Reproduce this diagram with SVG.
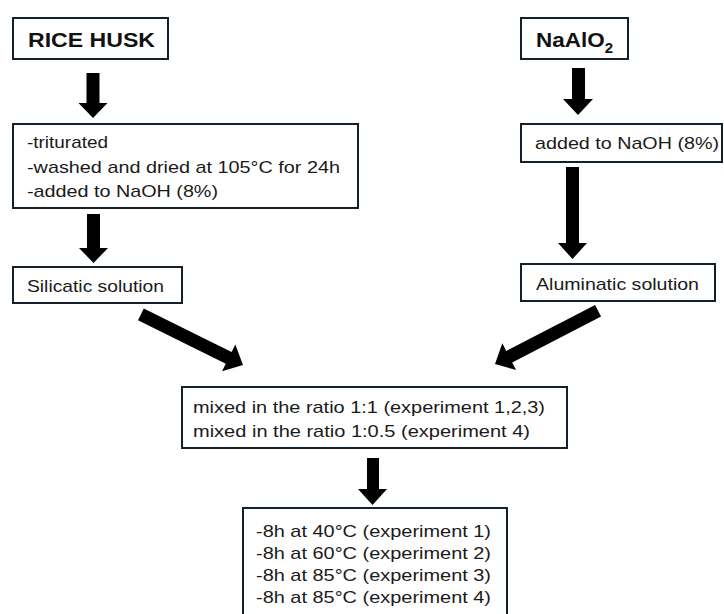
<svg xmlns="http://www.w3.org/2000/svg" width="724" height="614" viewBox="0 0 724 614">
<style>
.box{fill:#fff;stroke:#14202b;stroke-width:2}
.t{font-family:"Liberation Sans",Arial,sans-serif;font-size:17px;fill:#1a1a1a}
.b{font-family:"Liberation Sans",Arial,sans-serif;font-size:21px;font-weight:bold;fill:#111}
.arr{fill:#000}
</style>
<rect width="724" height="614" fill="#fff"/>
<g id="connectors">
<polygon class="arr" points="86.5,73 99.5,73 99.5,103 107.5,103 93,118 78.5,103 86.5,103"/>
<polygon class="arr" points="87,214 100,214 100,248 108,248 93.5,263 79,248 87,248"/>
<polygon class="arr" points="572,68 585,68 585,99 593,99 578,115 563,99 572,99"/>
<polygon class="arr" points="566,167 579,167 579,243 587,243 572.5,259 558,243 566,243"/>
<polygon class="arr" points="367,458 379,458 379,489 387,489 372.5,505 358,489 367,489"/>
<g transform="translate(243,365) rotate(-63.6)"><polygon class="arr" points="-6.5,-114 6.5,-114 6.5,-16 15,-16 0,0 -15,-16 -6.5,-16"/></g>
<g transform="translate(495,364) rotate(62.7)"><polygon class="arr" points="-6.5,-116 6.5,-116 6.5,-16 15,-16 0,0 -15,-16 -6.5,-16"/></g>
</g>
<g id="rice-husk">
<rect class="box" x="13" y="18" width="155" height="41"/>
<text class="b" x="28" y="47" textLength="127" lengthAdjust="spacingAndGlyphs">RICE HUSK</text>
</g>
<g id="rice-steps">
<rect class="box" x="13" y="124" width="345" height="84"/>
<text class="t" x="27" y="148" textLength="81" lengthAdjust="spacingAndGlyphs">-triturated</text>
<text class="t" x="27" y="173" textLength="313" lengthAdjust="spacingAndGlyphs">-washed and dried at 105°C for 24h</text>
<text class="t" x="27" y="197" textLength="191" lengthAdjust="spacingAndGlyphs">-added to NaOH (8%)</text>
</g>
<g id="silicatic">
<rect class="box" x="13" y="267" width="169" height="36"/>
<text class="t" x="27" y="292" textLength="137" lengthAdjust="spacingAndGlyphs">Silicatic solution</text>
</g>
<g id="naalo2">
<rect class="box" x="521" y="18" width="107" height="41"/>
<text class="b" x="536" y="46.5" textLength="77" lengthAdjust="spacingAndGlyphs">NaAlO<tspan font-size="14" dy="6">2</tspan></text>
</g>
<g id="naoh">
<rect class="box" x="521" y="124" width="201" height="38"/>
<text class="t" x="535" y="149" textLength="184" lengthAdjust="spacingAndGlyphs">added to NaOH (8%)</text>
</g>
<g id="aluminatic">
<rect class="box" x="521" y="264" width="194" height="37"/>
<text class="t" x="536" y="290" textLength="163" lengthAdjust="spacingAndGlyphs">Aluminatic solution</text>
</g>
<g id="mixed">
<rect class="box" x="182" y="387" width="385" height="61"/>
<text class="t" x="193" y="413" textLength="352" lengthAdjust="spacingAndGlyphs">mixed in the ratio 1:1 (experiment 1,2,3)</text>
<text class="t" x="193" y="437" textLength="337" lengthAdjust="spacingAndGlyphs">mixed in the ratio 1:0.5 (experiment 4)</text>
</g>
<g id="conditions">
<rect class="box" x="243" y="508" width="264" height="120"/>
<text class="t" x="256" y="537" textLength="235" lengthAdjust="spacingAndGlyphs">-8h at 40°C (experiment 1)</text>
<text class="t" x="256" y="559" textLength="235" lengthAdjust="spacingAndGlyphs">-8h at 60°C (experiment 2)</text>
<text class="t" x="256" y="581" textLength="235" lengthAdjust="spacingAndGlyphs">-8h at 85°C (experiment 3)</text>
<text class="t" x="256" y="603" textLength="235" lengthAdjust="spacingAndGlyphs">-8h at 85°C (experiment 4)</text>
</g>
</svg>
